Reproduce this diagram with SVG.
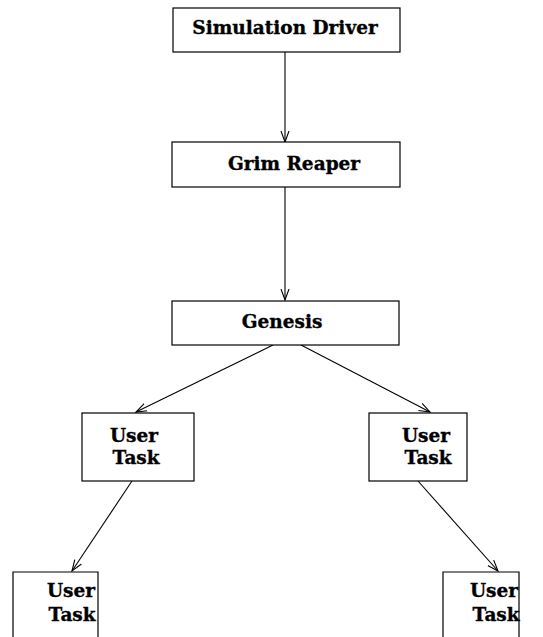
<svg xmlns="http://www.w3.org/2000/svg" width="543" height="637" viewBox="0 0 543 637">
  <style>
    .box { fill: #ffffff; stroke: #000000; stroke-width: 1.2; }
    .lbl { font-family: "DejaVu Serif", "Liberation Serif", serif; font-weight: bold; font-size: 18.5px; fill: #000000; stroke: #000000; stroke-width: 0.35; text-anchor: middle; }
    .edge { fill: none; stroke: #000000; stroke-width: 1.1; }
  </style>
  <defs>
    <marker id="openhead" markerWidth="13" markerHeight="10" refX="11" refY="5" orient="auto" markerUnits="userSpaceOnUse">
      <path d="M0,1 L11,5 L0,9" fill="none" stroke="#000000" stroke-width="1.1"/>
    </marker>
  </defs>
  <rect width="543" height="637" fill="#ffffff"/>

  <g id="connectors">
    <line class="edge" x1="285" y1="52" x2="285" y2="142" marker-end="url(#openhead)"/>
    <line class="edge" x1="285" y1="187" x2="285" y2="300" marker-end="url(#openhead)"/>
    <line class="edge" x1="273" y1="345" x2="136" y2="412" marker-end="url(#openhead)"/>
    <line class="edge" x1="301" y1="345" x2="430" y2="412" marker-end="url(#openhead)"/>
    <line class="edge" x1="132" y1="481" x2="72" y2="571" marker-end="url(#openhead)"/>
    <line class="edge" x1="418" y1="481" x2="498" y2="571" marker-end="url(#openhead)"/>
  </g>

  <g id="simulation-driver">
    <rect class="box" x="173" y="8" width="227" height="44"/>
    <text class="lbl" x="285" y="34">Simulation Driver</text>
  </g>

  <g id="grim-reaper">
    <rect class="box" x="172" y="142" width="228" height="45"/>
    <text class="lbl" x="294" y="170">Grim Reaper</text>
  </g>

  <g id="genesis">
    <rect class="box" x="172" y="301" width="227" height="44"/>
    <text class="lbl" x="282" y="328">Genesis</text>
  </g>

  <g id="user-task-left">
    <rect class="box" x="82" y="413" width="112" height="68"/>
    <text class="lbl" x="134" y="442">User</text>
    <text class="lbl" x="136" y="464">Task</text>
  </g>

  <g id="user-task-right">
    <rect class="box" x="369" y="413" width="98" height="68"/>
    <text class="lbl" x="426" y="442">User</text>
    <text class="lbl" x="428" y="464">Task</text>
  </g>

  <g id="user-task-bottom-left">
    <path class="box" d="M13,640 L13,572 L98,572 L98,640"/>
    <text class="lbl" x="71" y="597">User</text>
    <text class="lbl" x="72" y="621">Task</text>
  </g>

  <g id="user-task-bottom-right">
    <path class="box" d="M443,640 L443,572 L519,572 L519,640"/>
    <text class="lbl" x="494" y="597">User</text>
    <text class="lbl" x="496" y="621">Task</text>
  </g>
</svg>
